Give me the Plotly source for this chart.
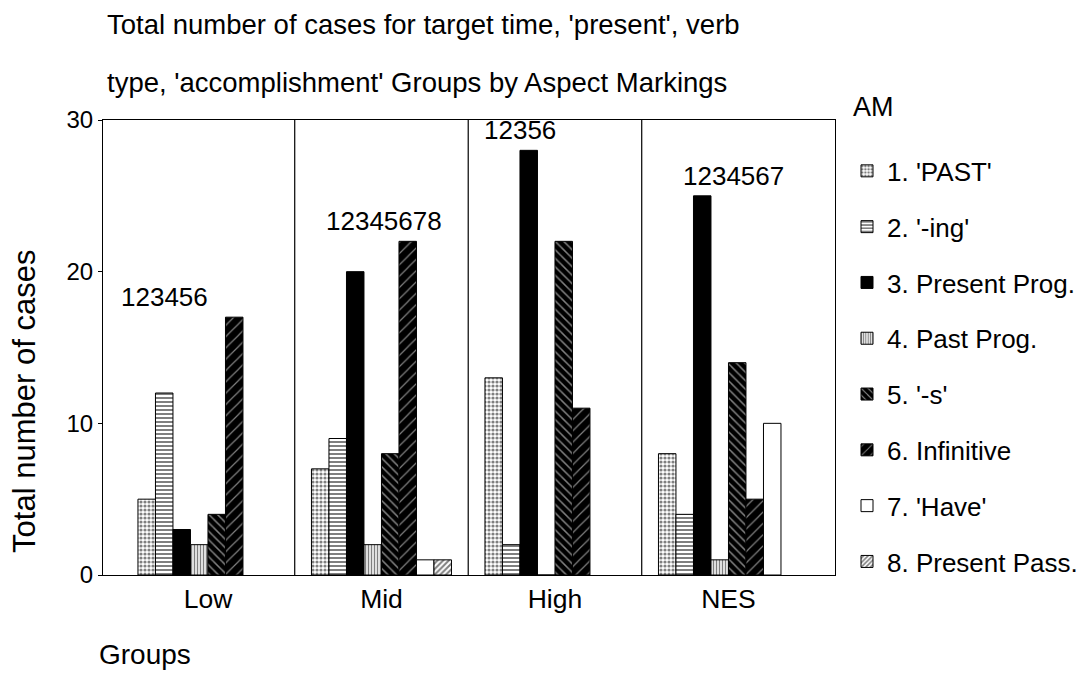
import plotly.graph_objects as go

groups = ['Low', 'Mid', 'High', 'NES']
am_labels = ["1. 'PAST'", "2. '-ing'", "3. Present Prog.", "4. Past Prog.",
             "5. '-s'", "6. Infinitive", "7. 'Have'", "8. Present Pass."]

# cases per group (Low, Mid, High, NES) for each aspect marking; None = no bar
am1 = [5, 7, 13, 8]
am2 = [12, 9, 2, 4]
am3 = [3, 20, 28, 25]
am4 = [2, 2, 0, 1]
am5 = [4, 8, 22, 14]
am6 = [17, 22, 11, 5]
am7 = [None, 1, None, 10]
am8 = [None, 1, None, None]
series = [am1, am2, am3, am4, am5, am6, am7, am8]

# page offset of the plot inside the browser window (body margin)
OFF = 8
W, H = 1091 - 2 * OFF, 678 - 2 * OFF
L, R, T, B = 103, 835, 119.5, 575.5   # plot frame, in window pixels
FONT = 'Liberation Sans, Arial, sans-serif'


def px(x):
    return (x - L) / (R - L)


def py(y):
    return (B - y) / (B - T)


styles = [
    dict(color='white', pattern=dict(shape='.', fgcolor='black', bgcolor='white', size=4, solidity=0.5)),
    dict(color='white', pattern=dict(shape='-', fgcolor='black', bgcolor='white', size=4, solidity=0.5)),
    dict(color='black'),
    dict(color='white', pattern=dict(shape='|', fgcolor='black', bgcolor='white', size=3, solidity=0.5)),
    dict(color='black', pattern=dict(shape='\\', fgcolor='white', bgcolor='black', size=6, solidity=0.25)),
    dict(color='black', pattern=dict(shape='/', fgcolor='white', bgcolor='black', size=8, solidity=0.15)),
    dict(color='white'),
    dict(color='white', pattern=dict(shape='/', fgcolor='black', bgcolor='white', size=4, solidity=0.5)),
]

fig = go.Figure()
for i, (lab, vals) in enumerate(zip(am_labels, series)):
    fig.add_trace(go.Bar(
        x=groups, y=vals, name=lab, legendgroup=str(i),
        marker=dict(line=dict(color='black', width=1), **styles[i]),
    ))

# panel separators between groups
for k in range(len(groups) - 1):
    fig.add_shape(type='line', xref='x', yref='y domain', x0=k + 0.5, x1=k + 0.5,
                  y0=0, y1=1, line=dict(color='black', width=1.2))

# present-marking codes above each group
label_dx = [-43, 3, -35, 5]
for j, g in enumerate(groups):
    vals = [s[j] for s in series]
    lab = ''.join(str(k + 1) for k, v in enumerate(vals) if v)
    fig.add_annotation(x=g, y=max(v for v in vals if v is not None), text=lab,
                       yanchor='bottom', yshift=3, xshift=label_dx[j], showarrow=False,
                       font=dict(family=FONT, size=26, color='black'))

fig.add_annotation(x=px(105), y=py(24), xref='paper', yref='paper',
                   xanchor='left', yanchor='middle',
                   text="Total number of cases for target time, 'present', verb",
                   showarrow=False, font=dict(family=FONT, size=27.5, color='black'))
fig.add_annotation(x=px(105), y=py(82), xref='paper', yref='paper',
                   xanchor='left', yanchor='middle',
                   text="type, 'accomplishment' Groups by Aspect Markings",
                   showarrow=False, font=dict(family=FONT, size=27.5, color='black'))
fig.add_annotation(x=px(25), y=py(402), xref='paper', yref='paper',
                   xanchor='center', yanchor='middle', textangle=-90,
                   text='Total number of cases', showarrow=False,
                   font=dict(family=FONT, size=31, color='black'))
fig.add_annotation(x=px(97), y=py(655), xref='paper', yref='paper',
                   xanchor='left', yanchor='middle', text='Groups', showarrow=False,
                   font=dict(family=FONT, size=28, color='black'))
fig.add_annotation(x=px(873), y=py(106), xref='paper', yref='paper',
                   xanchor='center', yanchor='middle', text='AM', showarrow=False,
                   font=dict(family=FONT, size=27, color='black'))

fig.update_xaxes(type='category', range=[-0.605, 3.614], showgrid=False, zeroline=False,
                 showline=True, mirror=True, linecolor='black', linewidth=1.2,
                 ticks='', tickfont=dict(family=FONT, size=26.5, color='black'))
fig.update_yaxes(range=[0, 30], tickvals=[0, 10, 20, 30], showgrid=False, zeroline=False,
                 showline=True, mirror=True, linecolor='black', linewidth=1.2,
                 ticks='outside', ticklen=4, tickcolor='black',
                 tickfont=dict(family=FONT, size=24, color='black'))

fig.update_layout(
    width=W, height=H, barmode='group', bargap=0.193, bargroupgap=0,
    margin=dict(l=L - OFF, r=W - (R - OFF), t=T - OFF, b=H - (B - OFF), autoexpand=False),
    paper_bgcolor='white', plot_bgcolor='white',
    font=dict(family=FONT, color='black'),
    legend=dict(x=px(847), y=py(147), xanchor='left', yanchor='top',
                font=dict(family=FONT, size=26, color='black'),
                tracegroupgap=19, traceorder='grouped', bgcolor='rgba(0,0,0,0)',
                maxheight=620),
)

fig.write_html('out.html')
